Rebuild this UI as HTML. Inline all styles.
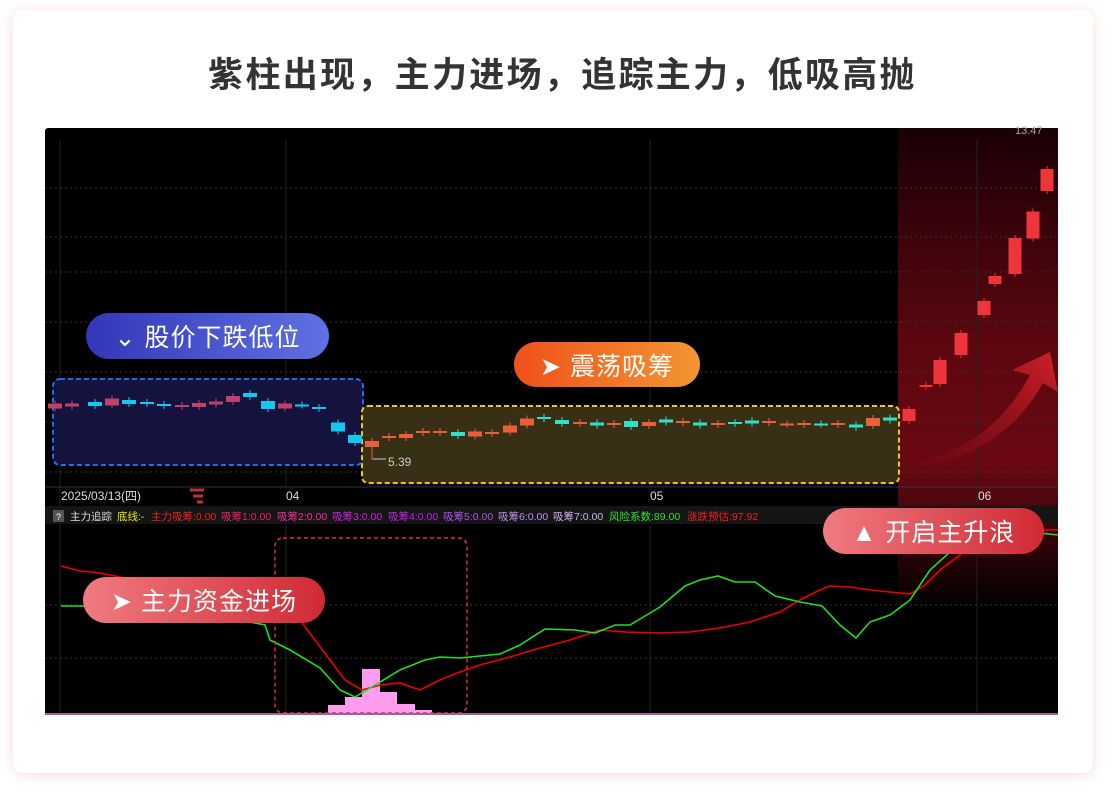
<!DOCTYPE html>
<html><head><meta charset="utf-8"><style>
body{margin:0;width:1117px;height:800px;background:#fff;font-family:"Liberation Sans","Noto Sans CJK SC",sans-serif;position:relative;overflow:hidden}
.card{position:absolute;left:13px;top:10px;width:1080px;height:763px;background:#fff;border-radius:10px;box-shadow:0 2px 12px rgba(230,120,110,.25)}
.title{position:absolute;left:0;width:1125px;top:47px;text-align:center;font-size:35px;font-weight:bold;color:#333;letter-spacing:2.3px}
.pill{position:absolute;color:#fff;font-size:25px;display:flex;align-items:center;justify-content:center;border-radius:24px;letter-spacing:1px}
</style></head><body>
<div class="card"></div>
<div class="title">紫柱出现，主力进场，追踪主力，低吸高抛</div>
<svg style="position:absolute;left:0;top:0" width="1117" height="800">
<defs>
<linearGradient id="rg" x1="0" y1="0" x2="0" y2="1"><stop offset="0" stop-color="#1a0004"/><stop offset=".45" stop-color="#5c0710"/><stop offset=".7" stop-color="#6a0812"/><stop offset="1" stop-color="#000"/></linearGradient>
<linearGradient id="ag" x1="0" y1="1" x2="1" y2="0"><stop offset="0" stop-color="#a0101a" stop-opacity="0"/><stop offset="1" stop-color="#d0202a"/></linearGradient>
</defs>
<rect x="45" y="128" width="1013" height="587" fill="#000" rx="3"/>
<rect x="898" y="128" width="160" height="480" fill="url(#rg)"/>
<g stroke="#333" stroke-dasharray="2,3" stroke-width="1">
<line x1="45" y1="188" x2="1058" y2="188"/><line x1="45" y1="237" x2="1058" y2="237"/><line x1="45" y1="272" x2="1058" y2="272"/><line x1="45" y1="322" x2="1058" y2="322"/><line x1="45" y1="372" x2="1058" y2="372"/><line x1="45" y1="422" x2="1058" y2="422"/><line x1="45" y1="472" x2="1058" y2="472"/>
<line x1="45" y1="605" x2="1058" y2="605"/><line x1="45" y1="658" x2="1058" y2="658"/>
</g>
<g stroke="#222" stroke-width="1"><line x1="60" y1="140" x2="60" y2="715"/><line x1="286" y1="140" x2="286" y2="487"/><line x1="650" y1="140" x2="650" y2="487"/><line x1="977" y1="140" x2="977" y2="715"/><line x1="286" y1="525" x2="286" y2="715"/><line x1="650" y1="525" x2="650" y2="715"/></g>
<rect x="53" y="379" width="310" height="86" rx="7" fill="#14133d" stroke="#1e6cf0" stroke-width="2" stroke-dasharray="5,3"/>
<rect x="362" y="406" width="537" height="77" rx="6" fill="#383015" stroke="#f2c230" stroke-width="2" stroke-dasharray="5,3"/>
<path d="M905 465 Q990 450 1030 375 L1012 370 L1050 352 L1058 392 L1043 383 Q1000 460 905 468Z" fill="url(#ag)"/>
<g id="c"></g>
<text x="1015" y="134" fill="#aaa" font-size="11">13.47</text>
<line x1="372" y1="447" x2="372" y2="460" stroke="#e85d3a"/><line x1="373" y1="459" x2="386" y2="459" stroke="#ccc"/><text x="388" y="466" fill="#ccc" font-size="12">5.39</text>
<line x1="45" y1="487" x2="1058" y2="487" stroke="#333"/>
<rect x="45" y="506" width="1013" height="18" fill="#151515"/>
<text x="61" y="500" fill="#ddd" font-size="12">2025/03/13(四)</text>
<text x="286" y="500" fill="#ddd" font-size="12">04</text><text x="650" y="500" fill="#ddd" font-size="12">05</text><text x="978" y="500" fill="#ddd" font-size="12">06</text>
<path d="M190 490h14M193 496h10M197 502h6" stroke="#c03030" stroke-width="3" fill="none"/>
<rect x="53" y="510" width="11" height="12" fill="#555"/><text x="56" y="520" fill="#fff" font-size="9">?</text>
<text y="520" font-size="10.5"><tspan x="70" fill="#ddd">主力追踪</tspan><tspan x="117" fill="#e8e800">底线:-</tspan><tspan x="151" fill="#f02020">主力吸筹:0.00</tspan><tspan x="221" fill="#f0206a">吸筹1:0.00</tspan><tspan x="277" fill="#f030a0">吸筹2:0.00</tspan><tspan x="332" fill="#d020e0">吸筹3:0.00</tspan><tspan x="388" fill="#c020f0">吸筹4:0.00</tspan><tspan x="443" fill="#b050f0">吸筹5:0.00</tspan><tspan x="498" fill="#c090f0">吸筹6:0.00</tspan><tspan x="553" fill="#d0b0f0">吸筹7:0.00</tspan><tspan x="609" fill="#30e030">风险系数:89.00</tspan><tspan x="687" fill="#f02020">涨跌预估:97.92</tspan></text>
<g fill="#ff9cf0"><rect x="328" y="705" width="17" height="9"/><rect x="345" y="697" width="17" height="17"/><rect x="362" y="669" width="18" height="45"/><rect x="380" y="692" width="17" height="22"/><rect x="397" y="704" width="18" height="10"/><rect x="415" y="710" width="17" height="4"/></g>
<polyline fill="none" stroke="#e00" stroke-width="1.6" points="61,566 80,571 100,573 125,578 200,590 270,605 300,620 345,680 362,690 380,685 400,683 420,690 440,680 460,672 480,665 510,657 540,648 570,640 600,630 625,632 660,633 690,632 720,628 750,622 780,612 800,600 820,590 830,586 850,587 870,590 890,592 910,594 925,585 940,570 960,555 980,538 1000,527 1040,530 1058,530"/>
<polyline fill="none" stroke="#1ee01e" stroke-width="1.6" points="61,606 80,606 200,612 265,625 270,640 290,650 320,668 340,690 355,697 375,685 400,670 425,660 440,657 460,658 480,656 500,654 520,645 545,629 575,630 595,633 615,625 630,625 660,607 685,586 700,580 718,576 735,582 755,582 775,596 800,602 822,606 840,625 856,638 870,622 890,615 910,600 930,570 950,552 975,540 1000,530 1040,533 1058,535"/>
<rect x="275" y="538" width="192" height="175" rx="8" fill="none" stroke="#e03030" stroke-width="1.5" stroke-dasharray="4,3"/>
<line x1="45" y1="714" x2="1058" y2="714" stroke="#a060a0" stroke-width="2"/>
</svg>
<div class="pill" style="left:86px;top:313px;width:243px;height:46px;background:linear-gradient(90deg,#3336b8,#5f72e2)">⌄&nbsp;股价下跌低位</div>
<div class="pill" style="left:514px;top:342px;width:186px;height:45px;background:linear-gradient(90deg,#f0501a,#f39632)">➤&nbsp;震荡吸筹</div>
<div class="pill" style="left:83px;top:577px;width:242px;height:46px;background:linear-gradient(90deg,#f07b80,#d02a34)">➤&nbsp;主力资金进场</div>
<div class="pill" style="left:823px;top:508px;width:221px;height:46px;background:linear-gradient(90deg,#f07b80,#d02a34)">▲&nbsp;开启主升浪</div>
<script>
var C=[[55,406,5,'r'],[72,405,3,'r'],[95,404,4,'c'],[112,402,7,'r'],[129,402,4,'c'],[147,403,2,'c'],[164,405,2,'c'],[182,406,2,'r'],[199,405,4,'r'],[216,403,3,'r'],[233,399,6,'r'],[250,395,4,'c'],[268,405,8,'c'],[285,406,5,'r'],[302,405,1,'c'],[319,408,2,'c'],[338,427,9,'c'],[355,439,8,'c'],[372,444,6,'o'],[389,437,2,'o'],[406,436,4,'o'],[423,432,2,'o'],[440,432,2,'o'],[458,434,4,'t'],[475,434,5,'o'],[492,433,2,'o'],[510,429,7,'o'],[527,422,7,'o'],[544,418,2,'t'],[562,422,4,'t'],[580,423,2,'o'],[597,424,3,'t'],[614,424,2,'o'],[631,424,6,'t'],[649,424,4,'o'],[666,421,3,'t'],[683,422,2,'o'],[700,424,3,'t'],[718,424,2,'o'],[735,423,2,'t'],[752,422,3,'t'],[769,422,2,'o'],[787,424,1,'o'],[804,424,2,'o'],[821,424,1,'t'],[838,424,2,'o'],[856,426,3,'t'],[873,422,8,'o'],[890,419,3,'t'],[909,415,12,'R'],[926,386,2,'R'],[940,372,24,'R'],[961,344,22,'R'],[984,308,14,'R'],[995,280,8,'R'],[1015,256,36,'R'],[1033,225,27,'R'],[1047,180,22,'R']];
var col={r:'#c0406a',c:'#12c8f0',o:'#e8603a',t:'#30e0c8',R:'#f0343c'};var s='';
C.forEach(function(k){var w=k[0]>=900?13:14;s+='<line x1="'+k[0]+'" y1="'+(k[1]-k[2]/2-3)+'" x2="'+k[0]+'" y2="'+(k[1]+k[2]/2+3)+'" stroke="'+col[k[3]]+'"/><rect x="'+(k[0]-w/2)+'" y="'+(k[1]-k[2]/2)+'" width="'+w+'" height="'+Math.max(k[2],2)+'" fill="'+col[k[3]]+'"/>';});
document.getElementById('c').innerHTML=s;
</script>
</body></html>
